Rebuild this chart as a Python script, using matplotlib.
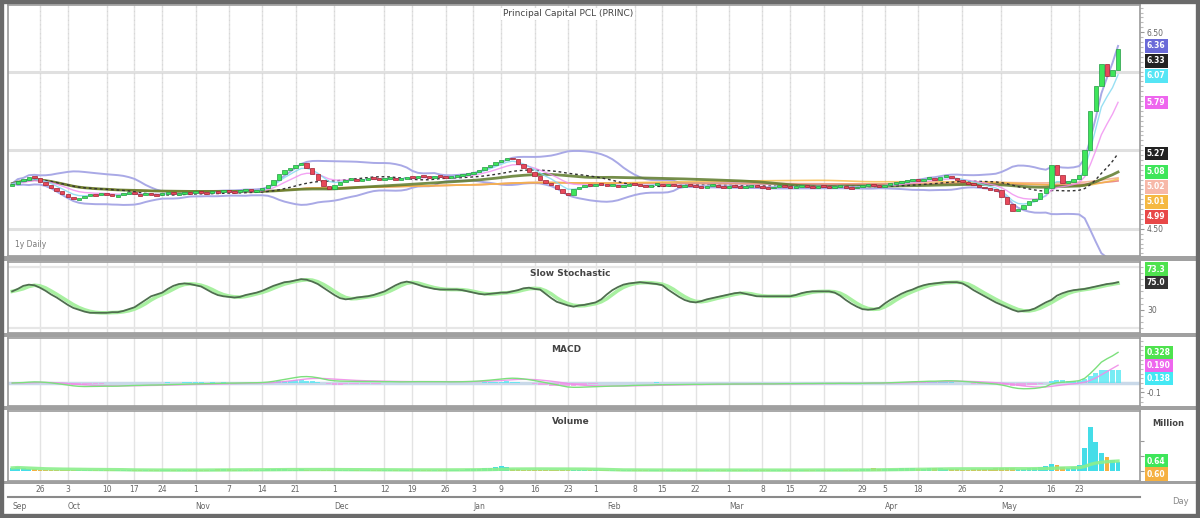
import matplotlib
matplotlib.use("Agg")
import matplotlib.pyplot as plt
import matplotlib.transforms as mtransforms
from matplotlib.patches import Rectangle
from matplotlib.lines import Line2D
import numpy as np
import pandas as pd

W, H = 1200, 518

title = "Principal Capital PCL (PRINC)"

# daily closes, oldest first
close = [
    4.96, 4.99, 5.00, 5.03, 5.02, 4.98, 4.95, 4.92,
    4.88, 4.85, 4.82, 4.80, 4.81, 4.83,
    4.85, 4.84, 4.86, 4.85, 4.83, 4.84, 4.86, 4.87, 4.85, 4.84, 4.86, 4.85, 4.84, 4.86, 4.87, 4.85, 4.86,
    4.87, 4.86, 4.88, 4.87, 4.86, 4.88, 4.87, 4.89, 4.88, 4.87, 4.89, 4.90, 4.88, 4.89, 4.91,
    4.95, 5.00, 5.06, 5.10, 5.12, 5.15, 5.17,
    5.12, 5.06, 5.00, 4.94, 4.90,
    4.95, 4.98, 5.00, 5.01, 4.99, 5.00, 5.02, 5.01, 5.00, 5.01, 5.02, 5.00, 5.01,
    5.03, 5.02, 5.04, 5.03, 5.02, 5.04, 5.03, 5.02, 5.03, 5.04, 5.05, 5.06,
    5.08, 5.10, 5.13, 5.15, 5.18, 5.20, 5.22, 5.21,
    5.16, 5.12, 5.08, 5.04, 5.00, 4.97, 4.95, 4.90, 4.86, 4.84,
    4.90, 4.93, 4.95, 4.94, 4.96, 4.95, 4.94, 4.95, 4.93, 4.94, 4.96, 4.95, 4.94, 4.93, 4.95, 4.96, 4.94, 4.95,
    4.94, 4.93, 4.95, 4.94, 4.93, 4.92, 4.94, 4.95, 4.93, 4.92, 4.94, 4.93, 4.92, 4.93, 4.94, 4.93, 4.92, 4.91,
    4.93, 4.94, 4.93, 4.92, 4.93, 4.94,
    4.93, 4.92, 4.94, 4.93, 4.92, 4.93, 4.94, 4.92, 4.91, 4.93, 4.94, 4.95, 4.94, 4.93, 4.95, 4.96, 4.97,
    4.98, 4.99, 5.00, 4.99, 5.01, 5.02, 5.00, 5.03, 5.04,
    5.02, 5.00, 4.98, 4.96, 4.95, 4.93, 4.91, 4.90, 4.89,
    4.82, 4.75, 4.68, 4.70, 4.74,
    4.78, 4.80, 4.86, 4.92,
    5.15, 5.05, 4.97, 4.98, 5.01, 5.05,
    5.30, 5.70, 5.95, 6.18, 6.05, 6.12, 6.33,
]

# slow stochastic %K
stoch_k = [
    60, 64, 69, 71, 70, 66, 61, 55, 50, 44,
    38, 33, 30, 27, 25, 25, 25, 25, 26, 26,
    28, 31, 34, 40, 46, 52, 55, 58, 64, 69,
    72, 73, 72, 70, 68, 63, 58, 54, 52, 51,
    50, 51, 54, 56, 58, 61, 65, 69, 72, 75,
    76, 78, 80, 79, 76, 72, 66, 60, 54, 49,
    47, 48, 50, 51, 52, 54, 57, 60, 65, 70,
    74, 76, 74, 71, 68, 66, 64, 63, 63, 63,
    63, 62, 60, 58, 56, 55, 56, 57, 58, 58,
    60, 62, 65, 66, 64, 63, 56, 49, 43, 40,
    37, 35, 37, 38, 40, 42, 47, 55, 62, 67,
    71, 73, 74, 75, 74, 73, 72, 70, 63, 57,
    51, 46, 43, 42, 44, 47, 49, 51, 53, 55,
    57, 58, 56, 54, 52, 52, 52, 52, 52, 52,
    52, 54, 57, 59, 60, 60, 60, 60, 58, 53,
    46, 40, 35, 31, 30, 31, 33, 40, 46, 51,
    56, 60, 63, 67, 70, 72, 73, 74, 75, 75,
    75, 73, 68, 62, 57, 52, 47, 42, 38, 34,
    30, 27, 28, 29, 32, 37, 42, 46, 53, 57,
    60, 62, 63, 64, 66, 68, 70, 72, 73, 75,
]

# volume, millions of shares
volume = [
    0.18, 0.22, 0.15, 0.10, 0.08, 0.06, 0.05, 0.05, 0.04, 0.05,
    0.04, 0.03, 0.04, 0.03, 0.03, 0.04, 0.03, 0.03, 0.04, 0.03,
    0.03, 0.03, 0.04, 0.03, 0.03, 0.03, 0.04, 0.03, 0.03, 0.04,
    0.03, 0.04, 0.03, 0.03, 0.04, 0.05, 0.06, 0.08, 0.12, 0.10,
    0.06, 0.05, 0.04, 0.05, 0.06, 0.07, 0.09, 0.12, 0.10, 0.08,
    0.07, 0.06, 0.08, 0.06, 0.05, 0.05, 0.04, 0.05, 0.04, 0.04,
    0.05, 0.04, 0.04, 0.05, 0.04, 0.04, 0.05, 0.04, 0.04, 0.05,
    0.04, 0.05, 0.04, 0.04, 0.05, 0.04, 0.05, 0.06, 0.05, 0.05,
    0.06, 0.07, 0.08, 0.10, 0.12, 0.15, 0.18, 0.25, 0.30, 0.22,
    0.12, 0.09, 0.07, 0.06, 0.05, 0.05, 0.04, 0.05, 0.04, 0.04,
    0.05, 0.04, 0.04, 0.03, 0.04, 0.03, 0.03, 0.04, 0.03, 0.03,
    0.03, 0.04, 0.03, 0.03, 0.03, 0.04, 0.03, 0.03, 0.03, 0.04,
    0.03, 0.03, 0.04, 0.03, 0.03, 0.03, 0.04, 0.03, 0.03, 0.03,
    0.04, 0.03, 0.03, 0.03, 0.04, 0.03, 0.03, 0.03, 0.04, 0.03,
    0.03, 0.04, 0.03, 0.03, 0.04, 0.03, 0.03, 0.04, 0.03, 0.04,
    0.04, 0.05, 0.06, 0.08, 0.12, 0.15, 0.10, 0.08, 0.12, 0.10,
    0.15, 0.18, 0.14, 0.12, 0.10, 0.16, 0.20, 0.14, 0.12, 0.10,
    0.08, 0.07, 0.06, 0.08, 0.10, 0.09, 0.12, 0.15, 0.20, 0.18,
    0.14, 0.12, 0.10, 0.15, 0.20, 0.25, 0.30, 0.45, 0.35, 0.25,
    0.20, 0.25, 0.35, 1.50, 2.90, 1.90, 1.20, 0.90, 0.70, 0.60,
]

tick_idx = [5, 10, 17, 22, 27, 33, 39, 45, 51, 58, 67, 72, 78, 83, 88, 94,
            100, 105, 112, 117, 123, 129, 135, 140, 146, 153, 157, 163, 171,
            178, 187, 192]
tick_lbl = ["26", "3", "10", "17", "24", "1", "7", "14", "21", "1", "12", "19",
            "26", "3", "9", "16", "23", "1", "8", "15", "22", "1", "8", "15",
            "22", "29", "5", "18", "26", "2", "16", "23"]
month_idx = [0, 10, 33, 58, 83, 107, 129, 157, 178]
month_lbl = ["Sep", "Oct", "Nov", "Dec", "Jan", "Feb", "Mar", "Apr", "May"]

price_labels = [4.50, 6.50]
price_grid = [4.50, 5.30, 6.10]


def px_axes(fig, left, top, right, bottom):
    return fig.add_axes([left / W, 1 - bottom / H, (right - left) / W, (bottom - top) / H])


def style_panel(ax):
    ax.set_facecolor("white")
    for s in ax.spines.values():
        s.set_color("#9a9a9a")
        s.set_linewidth(1.2)
    ax.yaxis.tick_right()
    ax.tick_params(axis="y", which="both", colors="#999999", labelcolor="#666666",
                   labelsize=5.5, length=3, width=0.8, pad=2)
    ax.tick_params(axis="x", length=0)
    ax.set_xticklabels([])
    for t in tick_idx:
        ax.axvline(t, color="#e3e3e3", lw=1.0, zorder=0)


def tag(ax, y, v, fc, fmt="{:.2f}", tc="white"):
    trans = mtransforms.blended_transform_factory(ax.transAxes, ax.transData)
    ax.text(1.006, y, fmt.format(v), transform=trans, fontsize=5.5, color=tc,
            ha="left", va="center", clip_on=False, fontweight="bold",
            bbox=dict(boxstyle="square,pad=0.3", fc=fc, ec="none"))


def px_to_data(ax, px):
    ylo, yhi = ax.get_ylim()
    return px * (yhi - ylo) / (ax.get_position().height * H)


def value_tags(ax, items, gap_px, fmt="{:.2f}"):
    # stack tags downward from the highest value so they never overlap
    gap = px_to_data(ax, gap_px)
    yhi = ax.get_ylim()[1]
    prev = None
    for v, fc in sorted(items, key=lambda t: -t[0]):
        y = min(v, yhi - gap * 0.5)
        if prev is not None:
            y = min(y, prev - gap)
        tag(ax, y, v, fc, fmt)
        prev = y


c = pd.Series(close)
n = len(c)
x = np.arange(n)
o = np.r_[c.iloc[0] - 0.02, c.values[:-1]]
cv = c.values

sma20 = c.rolling(20, min_periods=1).mean()
std20 = c.rolling(20, min_periods=2).std(ddof=0).fillna(0)
bb_up = sma20 + 2 * std20
bb_lo = sma20 - 2 * std20
ema5 = c.ewm(span=5, adjust=False).mean()
ema10 = c.ewm(span=10, adjust=False).mean()
sma50 = c.rolling(50, min_periods=1).mean()
sma100 = c.rolling(100, min_periods=1).mean()
sma150 = c.rolling(150, min_periods=1).mean()
sma200 = c.rolling(200, min_periods=1).mean()

k = pd.Series(stoch_k, dtype=float)
d = k.rolling(3, min_periods=1).mean()

macd = c.ewm(span=12, adjust=False).mean() - c.ewm(span=26, adjust=False).mean()
signal = macd.ewm(span=9, adjust=False).mean()
hist = macd - signal

vol = pd.Series(volume)
vol_sma = vol.rolling(20, min_periods=1).mean()

fig = plt.figure(figsize=(W / 100, H / 100), dpi=100)
fig.patch.set_facecolor("white")

xl = (-0.75, (1140 - 12) / 5.558)

# ---- price panel
ax = px_axes(fig, 8, 5, 1140, 256)
style_panel(ax)
ax.set_xlim(*xl)
ax.set_ylim(4.223, 6.777)
for g in price_grid:
    ax.axhline(g, color="#e0e0e0", lw=2.2, zorder=0)
for t in tick_idx:
    ax.axvline(t, color="#d6d6d6", lw=0.8, ls=(0, (1, 3)), zorder=0)
ax.plot(x, bb_up, color="#a9a9e6", lw=1.4, zorder=2)
ax.plot(x, bb_lo, color="#a9a9e6", lw=1.4, zorder=2)
ax.plot(x, sma200, color="#e35a5a", lw=1.2, alpha=0.7, zorder=2)
ax.plot(x, sma150, color="#f4a582", lw=1.2, alpha=0.8, zorder=2)
ax.plot(x, sma100, color="#f5b942", lw=1.2, alpha=0.8, zorder=2)
ax.plot(x, sma50, color="#5d7a2a", lw=2.0, alpha=0.85, zorder=2)
ax.plot(x, sma20, color="#333333", lw=1.0, ls=(0, (2, 2)), zorder=2)
ax.plot(x, ema10, color="#f08cf0", lw=1.0, alpha=0.8, zorder=2)
ax.plot(x, ema5, color="#7fd8f0", lw=1.0, alpha=0.8, zorder=2)

up = cv >= o
body_lo = np.minimum(o, cv)
body_h = np.abs(cv - o)
draw_h = np.maximum(body_h, 0.018)
bottoms = body_lo - (draw_h - body_h) / 2
ax.bar(x[up], draw_h[up], bottom=bottoms[up], width=0.8, color="#3ee65a",
       edgecolor="#229944", linewidth=0.5, zorder=3)
ax.bar(x[~up], draw_h[~up], bottom=bottoms[~up], width=0.8, color="#e8485a",
       edgecolor="#a02030", linewidth=0.5, zorder=3)
ax.set_yticks(price_labels)
ax.set_yticklabels([f"{v:.2f}" for v in price_labels])
ax.yaxis.set_minor_locator(matplotlib.ticker.MultipleLocator(0.05))
ax.tick_params(axis="y", which="minor", length=2, colors="#bbbbbb")
value_tags(ax, [
    (cv[-1], "#222222"),
    (bb_up.iloc[-1], "#6a6ad8"),
    (ema5.iloc[-1], "#55e5f5"),
    (ema10.iloc[-1], "#ee66ee"),
    (sma20.iloc[-1], "#222222"),
    (sma50.iloc[-1], "#3ee65a"),
    (sma100.iloc[-1], "#f5b942"),
    (sma150.iloc[-1], "#f7b8a8"),
    (sma200.iloc[-1], "#e84848"),
], gap_px=15)
ax.text(0.006, 0.035, "1y Daily", transform=ax.transAxes, fontsize=5.5, color="#777777")

# ---- slow stochastic
ax2 = px_axes(fig, 8, 262, 1140, 333)
style_panel(ax2)
ax2.set_xlim(*xl)
ax2.set_ylim(-8, 108)
ax2.axhline(0, color="#e6e6e6", lw=1.6, zorder=0)
ax2.axhline(100, color="#e6e6e6", lw=1.6, zorder=0)
ax2.plot(x, d, color="#a8f0a0", lw=2.6, zorder=2)
ax2.plot(x, k, color="#4f6e4f", lw=1.3, zorder=3)
ax2.set_yticks([30])
ax2.set_yticklabels(["30"])
ax2.yaxis.set_minor_locator(matplotlib.ticker.MultipleLocator(10))
ax2.tick_params(axis="y", which="minor", length=2, colors="#bbbbbb")
tag(ax2, k.iloc[-1], k.iloc[-1], "#333333", "{:.1f}")
tag(ax2, k.iloc[-1] + px_to_data(ax2, 13), d.iloc[-1], "#4ee24e", "{:.1f}")

# ---- MACD
ax3 = px_axes(fig, 8, 338, 1140, 406)
style_panel(ax3)
ax3.set_xlim(*xl)
ax3.set_ylim(-0.246, 0.482)
hc = np.where(hist.values >= 0, "#55e8f2", "#f29ae8")
ax3.bar(x, hist.values, width=0.9, color=hc, alpha=0.8, zorder=2)
ax3.axhline(0, color="#c9d9e9", lw=2.5, zorder=1)
ax3.plot(x, signal, color="#f08ce8", lw=1.0, alpha=0.9, zorder=3)
ax3.plot(x, macd, color="#7ce07c", lw=1.0, zorder=3)
ax3.set_yticks([-0.1])
ax3.set_yticklabels(["-0.1"])
ax3.yaxis.set_minor_locator(matplotlib.ticker.MultipleLocator(0.05))
ax3.tick_params(axis="y", which="minor", length=2, colors="#bbbbbb")
value_tags(ax3, [(macd.iloc[-1], "#4ee24e"),
                 (signal.iloc[-1], "#ee66ee"),
                 (hist.iloc[-1], "#44e8f4")], gap_px=13, fmt="{:.3f}")

# ---- volume
ax4 = px_axes(fig, 8, 411, 1140, 481)
style_panel(ax4)
ax4.set_xlim(*xl)
ax4.set_ylim(-0.7, 4.0)
vc = np.where(up, "#44dde8", "#f5b041")
ax4.bar(x, vol.values, width=0.85, color=vc, zorder=2)
ax4.plot(x, vol_sma, color="#8cef8c", lw=2.4, alpha=0.9, zorder=3)
ax4.set_yticks([0, 1, 2])
ax4.set_yticklabels(["", "", ""])
value_tags(ax4, [(vol_sma.iloc[-1], "#3ee65a"), (vol.iloc[-1], "#f5b041")], gap_px=13)
ax4.set_xticks(tick_idx)
ax4.set_xticklabels(tick_lbl, fontsize=5.5, color="#666666")
ax4.tick_params(axis="x", length=0, pad=3)
mtrans = mtransforms.blended_transform_factory(ax4.transData, ax4.transAxes)
for mi, ml in zip(month_idx, month_lbl):
    ax4.text(mi, -0.37, ml, transform=mtrans, fontsize=5.5, color="#666666",
             ha="left", va="center", clip_on=False)

# panel titles
fig.text(568 / W, 1 - 14 / H, title, fontsize=6.5, color="#444444", ha="center", va="center",
         bbox=dict(boxstyle="square,pad=0.2", fc="white", ec="none"))
fig.text(570 / W, 1 - 273 / H, "Slow Stochastic", fontsize=6.5, color="#444444",
         ha="center", va="center", fontweight="bold")
fig.text(566 / W, 1 - 349 / H, "MACD", fontsize=6.5, color="#444444",
         ha="center", va="center", fontweight="bold")
fig.text(571 / W, 1 - 422 / H, "Volume", fontsize=6.5, color="#444444",
         ha="center", va="center", fontweight="bold")
fig.text(1168 / W, 1 - 423 / H, "Million", fontsize=6, color="#444444",
         ha="center", va="center", fontweight="bold")
fig.text(1180 / W, 1 - 502 / H, "Day", fontsize=6, color="#888888", ha="center", va="center")

# separators and frame
for top, bot in [(256, 261), (333, 337), (406, 410), (481, 484)]:
    fig.patches.append(Rectangle((0, 1 - bot / H), 1, (bot - top) / H, transform=fig.transFigure,
                                 fc="#a0a0a0", ec="none", zorder=5))
fig.lines.append(Line2D([8 / W, 1140 / W], [1 - 497 / H, 1 - 497 / H], transform=fig.transFigure,
                        color="#8a8a8a", lw=1.5))
fig.patches.append(Rectangle((0, 0), 1, 1, transform=fig.transFigure, fill=False,
                             ec="#6a6a6a", lw=6, zorder=6))

fig.savefig("out.png", dpi=100, facecolor="white")
